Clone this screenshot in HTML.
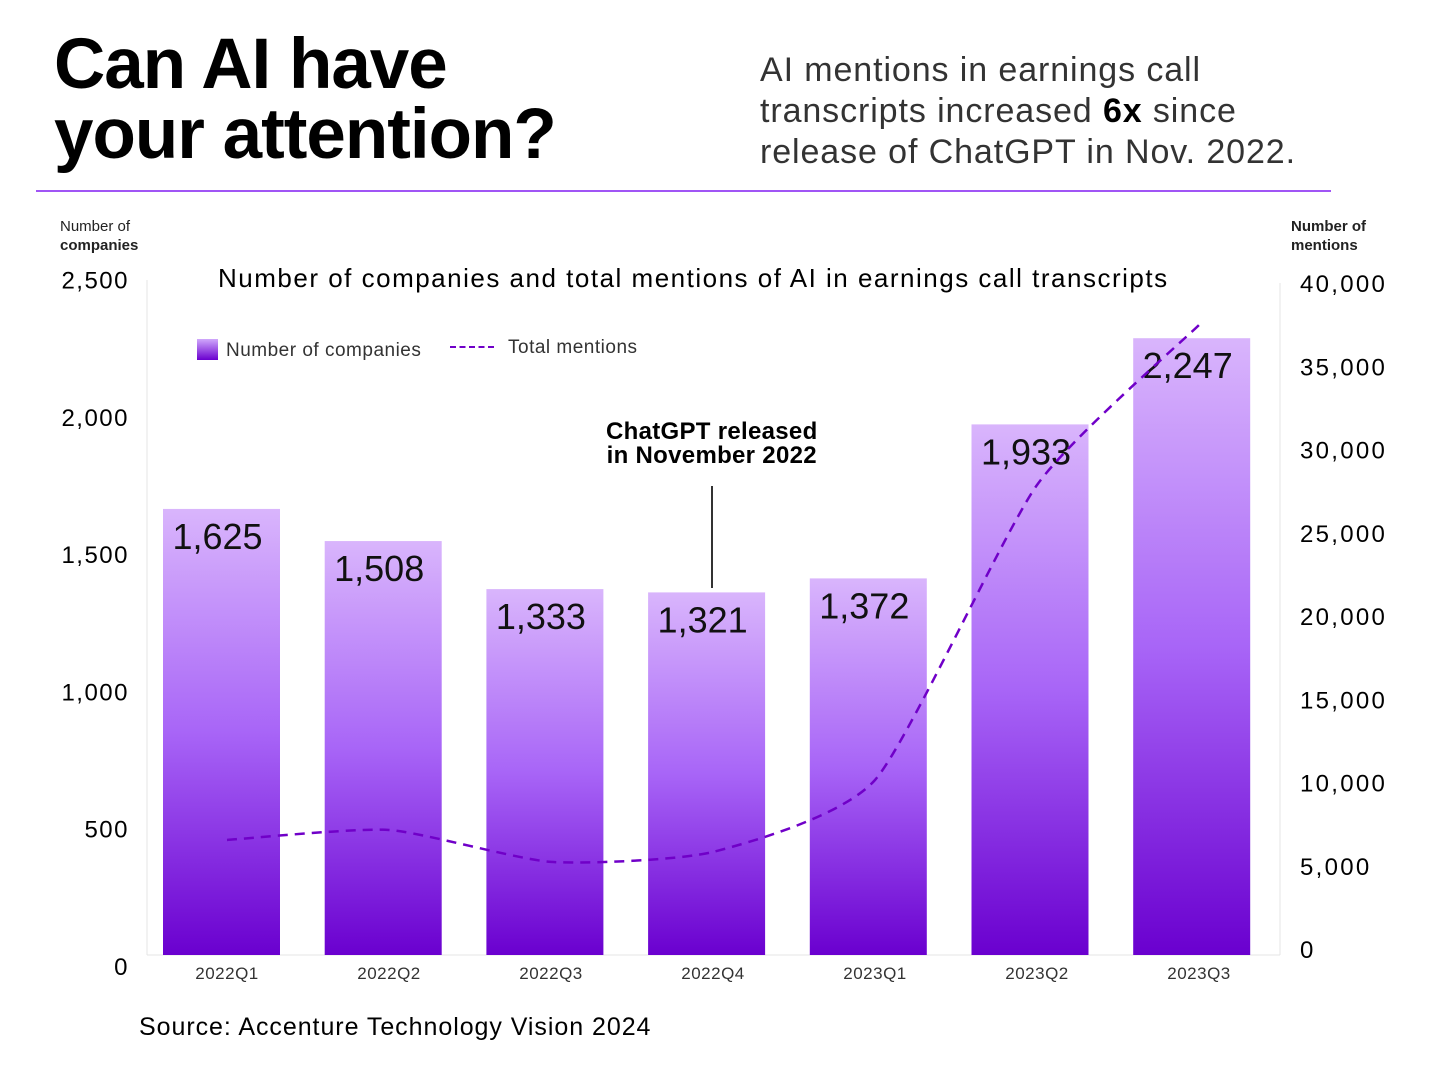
<!DOCTYPE html>
<html><head><meta charset="utf-8"><style>
body{margin:0;width:1439px;height:1067px;background:#fff;font-family:"Liberation Sans",sans-serif;overflow:hidden;position:relative}
.a{position:absolute;white-space:nowrap}
</style></head><body>
<div class="a" style="left:54px;top:30px;font-size:71px;font-weight:bold;line-height:70px;letter-spacing:-1px;color:#000">Can AI have<br>your attention?</div>
<div class="a" style="left:760px;top:50px;font-size:34px;line-height:41px;letter-spacing:0.9px;color:#333">AI mentions in earnings call<br>transcripts increased <b style="color:#000">6x</b> since<br>release of ChatGPT in Nov. 2022.</div>
<div class="a" style="left:36px;top:190px;width:1295px;height:2px;background:#a055f5"></div>
<svg id="c" class="a" style="left:0;top:0" width="1439" height="1067"></svg>
<script>
const categories=["2022Q1","2022Q2","2022Q3","2022Q4","2023Q1","2023Q2","2023Q3"];
const companies=[1625,1508,1333,1321,1372,1933,2247];
const mentions=[6550,7150,5230,5830,10150,27870,37480];
const leftTicks=[0,500,1000,1500,2000,2500];
const rightTicks=[0,5000,10000,15000,20000,25000,30000,35000,40000];
const NS="http://www.w3.org/2000/svg";
const svg=document.getElementById('c');
function mk(t,at,p){const e=document.createElementNS(NS,t);for(const k in at)e.setAttribute(k,at[k]);(p||svg).appendChild(e);return e;}
const xc=i=>227+162*i;
const xb=i=>221.5+161.7*i;
const yL=v=>955-v*0.2745;
const yR=v=>949-v*0.01665;
const defs=mk('defs',{});
const g=mk('linearGradient',{id:'bg',x1:0,y1:0,x2:0,y2:1},defs);
mk('stop',{offset:0,'stop-color':'#d9b5fc'},g);mk('stop',{offset:0.5,'stop-color':'#a865f7'},g);mk('stop',{offset:1,'stop-color':'#6a00cf'},g);
let e=mk('line',{x1:147,y1:280,x2:147,y2:955,stroke:'#e4e4e4'});

e=mk('line',{x1:1280,y1:283,x2:1280,y2:955,stroke:'#e4e4e4'});

e=mk('line',{x1:147,y1:955,x2:1280,y2:955,stroke:'#e4e4e4'});

const leftLabelY=v=>966-v*0.2746;
leftTicks.forEach(v=>{const t=mk('text',{x:129,y:leftLabelY(v)+9,'text-anchor':'end','font-size':24,'letter-spacing':1.5,fill:'#000'});t.textContent=v.toLocaleString('en-US');
});
rightTicks.forEach(v=>{const t=mk('text',{x:1300,y:yR(v)+9,'font-size':24,'letter-spacing':2.3,fill:'#000'});t.textContent=v.toLocaleString('en-US');
});
categories.forEach((c,i)=>{
 const x=xb(i),y=yL(companies[i]);
 const r=mk('rect',{x:x-58.5,y:y,width:117,height:955-y,fill:'url(#bg)'});
 
 const t=mk('text',{x:x-4,y:y+40,'text-anchor':'middle','font-size':36,fill:'#111'});t.textContent=companies[i].toLocaleString('en-US');
 
 const l=mk('text',{x:xc(i),y:979,'text-anchor':'middle','font-size':17,'letter-spacing':0.5,fill:'#333'});l.textContent=c;
 
});
const pts=mentions.map((v,i)=>[xc(i),yR(v)]);
let d='M'+pts[0][0]+','+pts[0][1];
const k=10;
for(let i=0;i<pts.length-1;i++){const p0=pts[i-1]||pts[i],p1=pts[i],p2=pts[i+1],p3=pts[i+2]||p2;
 d+=` C${p1[0]+(p2[0]-p0[0])/k},${p1[1]+(p2[1]-p0[1])/k} ${p2[0]-(p3[0]-p1[0])/k},${p2[1]-(p3[1]-p1[1])/k} ${p2[0]},${p2[1]}`;}
e=mk('path',{d:d,fill:'none',stroke:'#7000c8','stroke-width':2.5,'stroke-dasharray':'10 7'});

e=mk('line',{x1:712,y1:486,x2:712,y2:588,stroke:'#333','stroke-width':2});

</script>
<div class="a" style="left:60px;top:217px;font-size:15px;line-height:19px;color:#222">Number of<br><b>companies</b></div>
<div class="a" style="left:1291px;top:217px;font-size:15px;line-height:19px;color:#222"><b>Number of<br>mentions</b></div>
<div class="a" style="left:218px;top:263px;font-size:26px;letter-spacing:1.5px;color:#000">Number of companies and total mentions of AI in earnings call transcripts</div>
<div class="a" style="left:197px;top:339px;font-size:19px;letter-spacing:0.5px;color:#333"><span style="display:inline-block;width:21px;height:21px;background:linear-gradient(#d0a8fb,#6a00cf);vertical-align:-4px;margin-right:8px"></span>Number of companies</div>
<div class="a" style="left:450px;top:337px;font-size:19px;letter-spacing:0.5px;color:#333"><span style="display:inline-block;width:44px;border-top:2.5px dashed #7000c8;vertical-align:5px;margin-right:14px"></span>Total mentions</div>
<div class="a" style="left:606px;top:420px;font-size:24px;line-height:24px;font-weight:bold;text-align:center;color:#000;letter-spacing:0.3px">ChatGPT released<br>in November 2022</div>
<div class="a" style="left:139px;top:1013px;font-size:25px;letter-spacing:0.95px;color:#000">Source: Accenture Technology Vision 2024</div>
</body></html>
